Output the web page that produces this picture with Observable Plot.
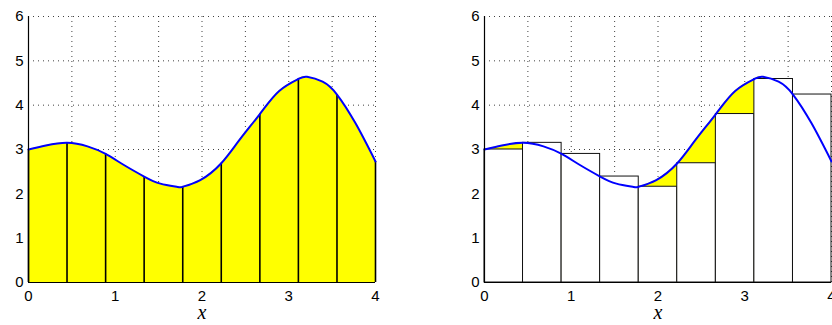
<!DOCTYPE html>
<html><head><meta charset="utf-8">
<script src="https://cdn.jsdelivr.net/npm/d3@7"></script>
<script src="https://cdn.jsdelivr.net/npm/@observablehq/plot@0.6"></script>
<style>
body{margin:0;background:#fff;}
#wrap{display:flex;width:832px;height:325px;overflow:hidden;}
#wrap svg{flex:none;}
</style></head><body><div id="wrap"></div>
<script>
// curve f(x)
const curveX = [0, 0.2, 0.444, 0.68, 0.889, 1.1, 1.333, 1.52, 1.72, 1.778, 1.98, 2.222, 2.43, 2.667, 2.89, 3.111, 3.21, 3.39, 3.556, 3.77, 4.0];
const curveY = [3.00, 3.09, 3.15, 3.07, 2.90, 2.65, 2.39, 2.23, 2.155, 2.16, 2.31, 2.69, 3.21, 3.80, 4.32, 4.59, 4.64, 4.53, 4.24, 3.59, 2.73];
// partition points and left-endpoint heights
const partition = [0, 0.444, 0.889, 1.333, 1.778, 2.222, 2.667, 3.111, 3.556, 4.0];
const leftHeights = [3.00, 3.15, 2.90, 2.39, 2.16, 2.69, 3.80, 4.59, 4.24];
const endValue = 2.73;
const xTicks = [0, 1, 2, 3, 4];
const xGrid = [0.5, 1, 1.5, 2, 2.5, 3, 3.5, 4];
const yTicks = [0, 1, 2, 3, 4, 5, 6];
const yGrid = [1, 2, 3, 4, 5, 6];

const curve = curveX.map((x, i) => ({x, y: curveY[i]}));
const bars = leftHeights.map((h, i) => ({x1: partition[i], x2: partition[i + 1], h}));
const edges = partition.map((x, i) => ({x, h: i < leftHeights.length ? leftHeights[i] : endValue}));

function panel(rightPanel, ml, mr) {
  const gridStyle = {stroke: "#000", strokeOpacity: 0.75, strokeWidth: 1, strokeDasharray: "1,4"};
  const marks = [
    Plot.gridX(xGrid, gridStyle),
    Plot.gridY(yGrid, gridStyle),
    Plot.areaY(curve, {x: "x", y: "y", fill: "#ffff00", curve: "natural"})
  ];
  if (rightPanel) {
    marks.push(Plot.rect(bars, {x1: "x1", x2: "x2", y1: 0, y2: "h", fill: "white", stroke: "#111", strokeWidth: 1}));
  } else {
    marks.push(Plot.ruleX(edges, {x: "x", y1: 0, y2: "h", stroke: "#000", strokeWidth: 1.6}));
  }
  marks.push(
    Plot.line(curve, {x: "x", y: "y", stroke: "#0000ff", strokeWidth: 2, curve: "natural"}),
    Plot.ruleX([0], {stroke: "#000", strokeWidth: 1.2}),
    Plot.ruleY([0], {stroke: "#000", strokeWidth: 1.2}),
    Plot.axisX({ticks: xTicks, tickSize: 0, tickPadding: 8, label: null, tickFormat: d => String(d)}),
    Plot.axisY({ticks: yTicks, tickSize: 0, tickPadding: 5, label: null, tickFormat: d => String(d)}),
    Plot.text(["x"], {frameAnchor: "bottom", dy: 30, text: d => d, fontSize: 20, fontStyle: "italic", fontFamily: "Liberation Serif", lineAnchor: "middle"})
  );
  const svg = Plot.plot({
    width: 416, height: 325,
    marginLeft: ml, marginRight: mr, marginTop: 16, marginBottom: 43,
    x: {domain: [0, 4]},
    y: {domain: [0, 6]},
    style: {fontFamily: "'Liberation Sans', Arial, sans-serif", color: "#000", background: "#fff", overflow: "visible"},
    marks
  });
  const s = d3.select(svg);
  s.selectAll("g[aria-label*='axis'] text").style("font-size", "15px").style("font-family", "'Liberation Sans', Arial, sans-serif");
  return svg;
}
const wrap = document.getElementById("wrap");
wrap.appendChild(panel(false, 28, 41));
wrap.appendChild(panel(true, 68, 1));
</script></body></html>
